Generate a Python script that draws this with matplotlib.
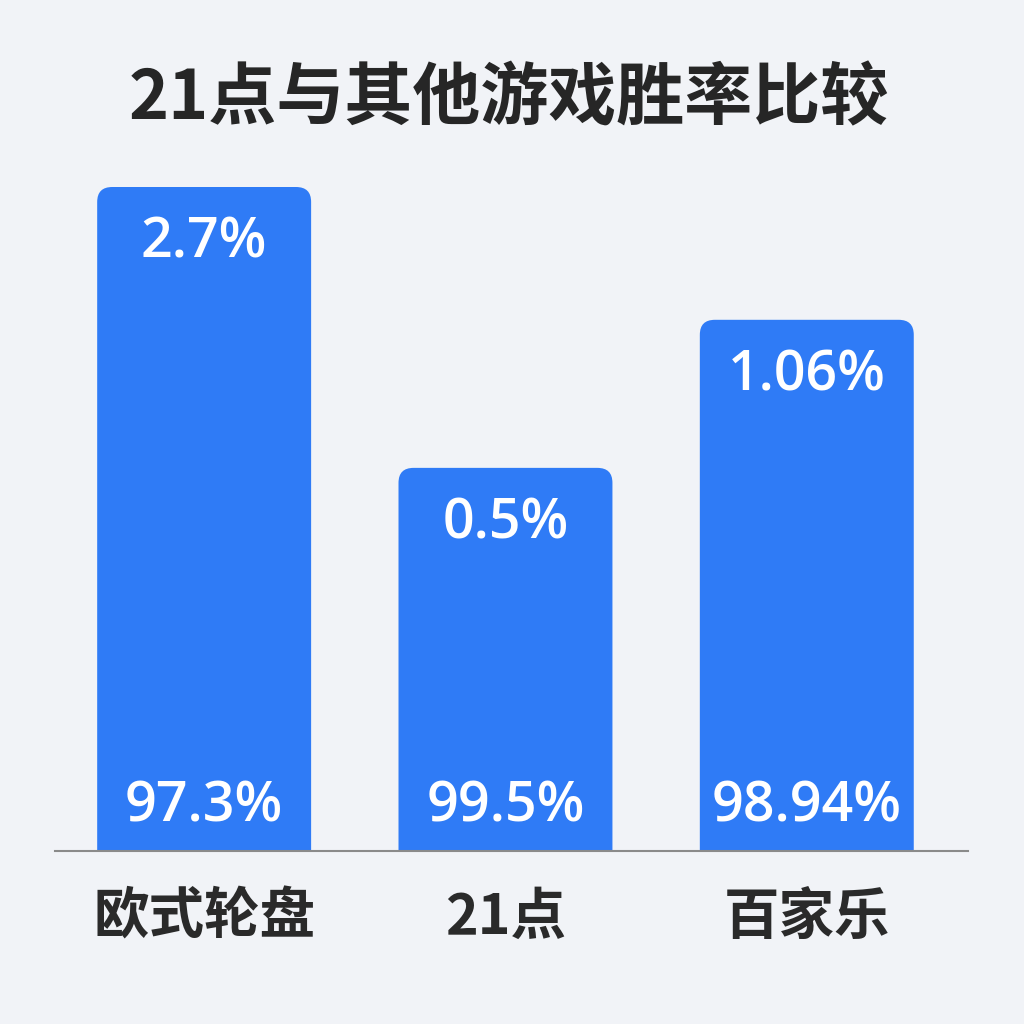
import matplotlib.pyplot as plt
from matplotlib.patches import FancyBboxPatch

plt.rcParams['font.family'] = ['Noto Sans CJK SC', 'DejaVu Sans']

games = ['欧式轮盘', '21点', '百家乐']
house_edge = ['2.7%', '0.5%', '1.06%']
win_rate = ['97.3%', '99.5%', '98.94%']
# bar heights as drawn in the picture (relative units)
bar_heights = [1.0, 0.577, 0.80]

BG = '#F1F3F7'
BAR = '#2F7BF6'
NUM_FONT = ['Open Sans', 'Noto Sans CJK SC', 'DejaVu Sans']

fig = plt.figure(figsize=(10.24, 10.24), dpi=100, facecolor=BG)
ax = fig.add_axes([55 / 1024, 1 - 851 / 1024, 913 / 1024, 664 / 1024])
ax.set_facecolor(BG)
ax.set_xlim(-0.495, 2.535)
ax.set_ylim(0, 1)

width = 0.71
bars = ax.bar(range(len(games)), bar_heights, width=width, color=BAR)
for b in bars:
    x, w, h = b.get_x(), b.get_width(), b.get_height()
    b.set_visible(False)
    p = FancyBboxPatch((x, -0.1), w, h + 0.1,
                       boxstyle='round,pad=0,rounding_size=0.05',
                       mutation_aspect=0.45, fc=BAR, ec='none')
    ax.add_patch(p)
    p.set_clip_path(ax.patch)

for i, h in enumerate(bar_heights):
    ax.text(i, h - 0.085, house_edge[i], ha='center', va='center',
            color='white', fontsize=40, fontweight='semibold', family=NUM_FONT)
    ax.text(i, 0.065, win_rate[i], ha='center', va='center',
            color='white', fontsize=40, fontweight='semibold', family=NUM_FONT)

ax.axhline(0, color='#8a8a8a', lw=1.5, clip_on=False)
for s in ax.spines.values():
    s.set_visible(False)
ax.set_xticks(range(len(games)))
ax.set_xticklabels(games, fontsize=40, fontweight='bold', color='#2a2a2a')
ax.tick_params(axis='x', length=0, pad=28)
ax.set_yticks([])

fig.text(0.497, 1 - 100 / 1024, '21点与其他游戏胜率比较', ha='center', va='center',
         fontsize=49, fontweight='bold', color='#262626')

fig.savefig('out.png', dpi=100, facecolor=BG)
